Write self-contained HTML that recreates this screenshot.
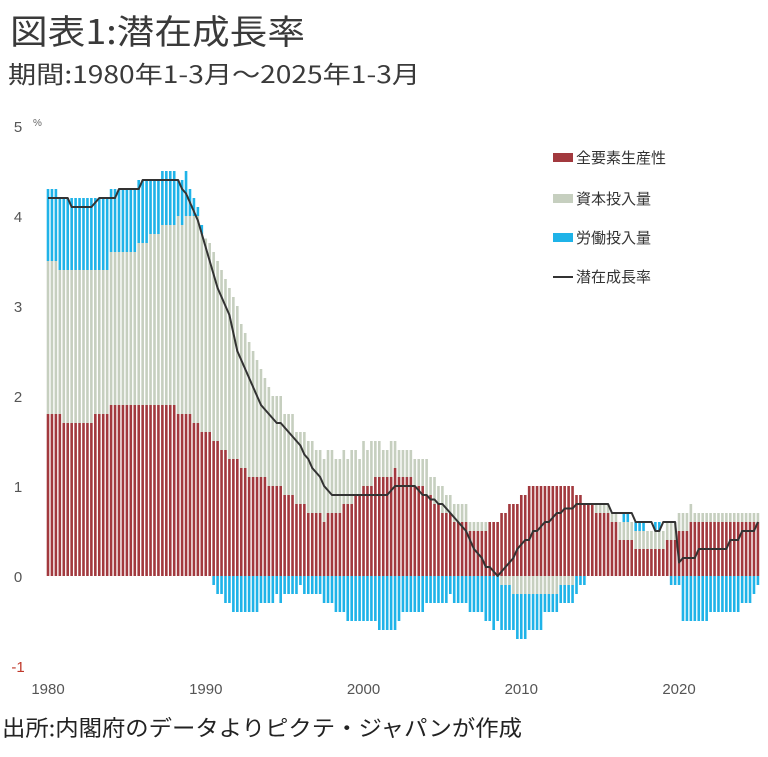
<!DOCTYPE html>
<html><head><meta charset="utf-8"><style>
html,body{margin:0;padding:0;background:#fff;}
svg{display:block;font-family:"Liberation Sans","Noto Sans CJK JP",sans-serif;}
</style></head><body>
<svg id="chart" width="768" height="757" viewBox="0 0 768 757" xmlns="http://www.w3.org/2000/svg">
<text x="10" y="44" font-size="34" fill="#3a3a3a" textLength="295" lengthAdjust="spacingAndGlyphs" font-family="Noto Sans CJK JP, sans-serif">図表1:潜在成長率</text>
<text x="8" y="83" font-size="24" fill="#3a3a3a" textLength="412" lengthAdjust="spacingAndGlyphs" font-family="Noto Sans CJK JP, sans-serif">期間:1980年1-3月～2025年1-3月</text>
<text x="2" y="736" font-size="22" fill="#222" textLength="520" lengthAdjust="spacingAndGlyphs" font-family="Noto Sans CJK JP, sans-serif">出所:内閣府のデータよりピクテ・ジャパンが作成</text>
<text x="33" y="126" font-size="10" fill="#666">%</text>
<g id="yaxis"></g>
<g id="xaxis"></g>
<g id="bars"></g>
<g id="line"></g>
<g font-family="Noto Sans CJK JP, sans-serif" font-size="15" fill="#333">
 <g><rect x="553" y="153" width="20" height="9" fill="#a2393e"/><text x="576" y="163">全要素生産性</text></g>
 <g><rect x="553" y="194" width="20" height="9" fill="#c6cfbf"/><text x="576" y="204">資本投入量</text></g>
 <g><rect x="553" y="233" width="20" height="9" fill="#1fb3e8"/><text x="576" y="243">労働投入量</text></g>
 <g><rect x="553" y="276" width="20" height="2" fill="#333"/><text x="576" y="282">潜在成長率</text></g>
</g>
</svg>
<script>
const yTicks=[5,4,3,2,1,0,-1];
const xTickYears=[1980,1990,2000,2010,2020];
const startYear=1980;
const tfp=[1.8,1.8,1.8,1.8,1.7,1.7,1.7,1.7,1.7,1.7,
1.7,1.7,1.8,1.8,1.8,1.8,1.9,1.9,1.9,1.9,
1.9,1.9,1.9,1.9,1.9,1.9,1.9,1.9,1.9,1.9,
1.9,1.9,1.9,1.8,1.8,1.8,1.8,1.7,1.7,1.6,
1.6,1.6,1.5,1.5,1.4,1.4,1.3,1.3,1.3,1.2,
1.2,1.1,1.1,1.1,1.1,1.1,1.0,1.0,1.0,1.0,
0.9,0.9,0.9,0.8,0.8,0.8,0.7,0.7,0.7,0.7,
0.6,0.7,0.7,0.7,0.7,0.8,0.8,0.8,0.9,0.9,
1.0,1.0,1.0,1.1,1.1,1.1,1.1,1.1,1.2,1.1,
1.1,1.1,1.1,1.0,1.0,1.0,0.9,0.9,0.8,0.8,
0.7,0.7,0.7,0.6,0.6,0.6,0.6,0.5,0.5,0.5,
0.5,0.5,0.6,0.6,0.6,0.7,0.7,0.8,0.8,0.8,
0.9,0.9,1.0,1.0,1.0,1.0,1.0,1.0,1.0,1.0,
1.0,1.0,1.0,1.0,0.9,0.9,0.8,0.8,0.8,0.7,
0.7,0.7,0.7,0.6,0.6,0.4,0.4,0.4,0.4,0.3,
0.3,0.3,0.3,0.3,0.3,0.3,0.3,0.4,0.4,0.4,
0.5,0.5,0.5,0.6,0.6,0.6,0.6,0.6,0.6,0.6,
0.6,0.6,0.6,0.6,0.6,0.6,0.6,0.6,0.6,0.6,0.6];
const capital=[1.7,1.7,1.7,1.6,1.7,1.7,1.7,1.7,1.7,1.7,
1.7,1.7,1.6,1.6,1.6,1.6,1.7,1.7,1.7,1.7,
1.7,1.7,1.7,1.8,1.8,1.8,1.9,1.9,1.9,2.0,
2.0,2.0,2.0,2.2,2.1,2.2,2.2,2.3,2.3,2.2,
2.15,2.1,2.1,2.0,2.0,1.9,1.9,1.8,1.7,1.6,
1.5,1.5,1.4,1.3,1.2,1.1,1.1,1.0,1.0,1.0,
0.9,0.9,0.9,0.8,0.8,0.8,0.8,0.8,0.7,0.7,
0.7,0.7,0.7,0.6,0.6,0.6,0.5,0.6,0.5,0.4,
0.5,0.4,0.5,0.4,0.4,0.3,0.3,0.4,0.3,0.3,
0.3,0.3,0.3,0.3,0.3,0.3,0.4,0.2,0.3,0.2,
0.3,0.2,0.2,0.2,0.2,0.2,0.2,0.1,0.1,0.1,
0.1,0.1,0,0,0,-0.1,-0.1,-0.1,-0.2,-0.2,
-0.2,-0.2,-0.2,-0.2,-0.2,-0.2,-0.2,-0.2,-0.2,-0.2,
-0.1,-0.1,-0.1,-0.1,0,0,0,0,0,0.1,
0.1,0.1,0.1,0.1,0.1,0.2,0.2,0.2,0.2,0.2,
0.2,0.2,0.2,0.2,0.2,0.2,0.2,0.2,0.2,0.2,
0.2,0.2,0.2,0.2,0.1,0.1,0.1,0.1,0.1,0.1,
0.1,0.1,0.1,0.1,0.1,0.1,0.1,0.1,0.1,0.1,0.1];
const labor=[0.8,0.8,0.8,0.8,0.8,0.8,0.8,0.8,0.8,0.8,
0.8,0.8,0.8,0.8,0.8,0.8,0.7,0.7,0.7,0.7,
0.7,0.7,0.7,0.7,0.7,0.7,0.6,0.6,0.6,0.6,
0.6,0.6,0.6,0.4,0.5,0.5,0.3,0.2,0.1,0.1,
0,0,-0.1,-0.2,-0.2,-0.3,-0.3,-0.4,-0.4,-0.4,
-0.4,-0.4,-0.4,-0.4,-0.3,-0.3,-0.3,-0.3,-0.2,-0.3,
-0.2,-0.2,-0.2,-0.2,-0.1,-0.2,-0.2,-0.2,-0.2,-0.2,
-0.3,-0.3,-0.3,-0.4,-0.4,-0.4,-0.5,-0.5,-0.5,-0.5,
-0.5,-0.5,-0.5,-0.5,-0.6,-0.6,-0.6,-0.6,-0.6,-0.5,
-0.4,-0.4,-0.4,-0.4,-0.4,-0.4,-0.3,-0.3,-0.3,-0.3,
-0.3,-0.3,-0.2,-0.3,-0.3,-0.3,-0.3,-0.4,-0.4,-0.4,
-0.4,-0.5,-0.5,-0.6,-0.5,-0.5,-0.5,-0.5,-0.4,-0.5,
-0.5,-0.5,-0.4,-0.4,-0.4,-0.4,-0.2,-0.2,-0.2,-0.2,
-0.2,-0.2,-0.2,-0.2,-0.2,-0.1,-0.1,0,0,0,
0,0,0,0,0,0,0.1,0.1,0,0.1,
0.1,0.1,0,0,0.1,0.1,0,0,-0.1,-0.1,
-0.1,-0.5,-0.5,-0.5,-0.5,-0.5,-0.5,-0.5,-0.4,-0.4,
-0.4,-0.4,-0.4,-0.4,-0.4,-0.4,-0.3,-0.3,-0.3,-0.2,-0.1];
const potential=[4.2,4.2,4.2,4.2,4.2,4.2,4.1,4.1,4.1,4.1,
4.1,4.1,4.15,4.2,4.2,4.2,4.2,4.2,4.3,4.3,
4.3,4.3,4.3,4.3,4.4,4.4,4.4,4.4,4.4,4.4,
4.4,4.4,4.4,4.4,4.3,4.25,4.15,4.05,3.95,3.8,
3.65,3.5,3.35,3.2,3.1,3.0,2.9,2.7,2.5,2.4,
2.3,2.2,2.1,2.0,1.9,1.85,1.8,1.75,1.7,1.7,
1.65,1.6,1.55,1.5,1.45,1.35,1.3,1.2,1.15,1.1,
1.0,0.95,0.9,0.9,0.9,0.9,0.9,0.9,0.9,0.9,
0.9,0.9,0.9,0.9,0.9,0.9,0.9,0.95,1.0,1.0,
1.0,1.0,1.0,1.0,0.95,0.9,0.9,0.85,0.85,0.8,
0.8,0.75,0.7,0.65,0.6,0.55,0.5,0.4,0.3,0.25,
0.2,0.1,0.1,0.05,0.0,0.05,0.1,0.15,0.2,0.3,
0.35,0.4,0.4,0.5,0.5,0.55,0.6,0.6,0.65,0.7,
0.7,0.75,0.75,0.75,0.8,0.8,0.8,0.8,0.8,0.8,
0.8,0.8,0.8,0.7,0.7,0.7,0.7,0.7,0.7,0.6,
0.6,0.6,0.6,0.6,0.5,0.5,0.6,0.6,0.6,0.6,
0.15,0.2,0.2,0.2,0.2,0.3,0.3,0.3,0.3,0.3,
0.3,0.3,0.3,0.4,0.4,0.4,0.5,0.5,0.5,0.5,0.6];

const NS='http://www.w3.org/2000/svg';
const zeroY=576, unit=90, x0=48, step=3.944, barW=2.6;
function yScale(v){return zeroY-v*unit;}
function xScale(i){return x0+i*step;}
function xYear(y){return x0+(y-startYear)*4*step;}
function mk(tag,attrs,parent){const e=document.createElementNS(NS,tag);for(const k in attrs)e.setAttribute(k,attrs[k]);parent.appendChild(e);return e;}

const ya=document.getElementById('yaxis');
yTicks.forEach(t=>{
  const e=mk('text',{x:18,y:yScale(t)+6,'font-size':15,fill:t<0?'#c0392b':'#555','text-anchor':'middle'},ya);
  
  
  e.textContent=String(t);
});
const xa=document.getElementById('xaxis');
xTickYears.forEach(y=>{
  const e=mk('text',{x:xYear(y),y:694,'font-size':15,fill:'#555','text-anchor':'middle'},xa);
  
  
  e.textContent=String(y);
});
const bg=document.getElementById('bars');
const colors={tfp:'#a2393e',capital:'#c6cfbf',labor:'#1fb3e8'};
for(let i=0;i<tfp.length;i++){
  let pos=0,neg=0;
  [['tfp',tfp[i]],['capital',capital[i]],['labor',labor[i]]].forEach(([k,v])=>{
    if(!v)return;
    let top,bot;
    if(v>0){bot=pos;top=pos+v;pos=top;}else{top=neg;bot=neg+v;neg=bot;}
    const r=mk('rect',{x:(xScale(i)-barW/2).toFixed(2),y:yScale(top).toFixed(2),width:barW,height:((top-bot)*unit).toFixed(2),fill:colors[k]},bg);
    
    
  });
}
const lg=document.getElementById('line');
const pts=potential.map((v,i)=>xScale(i).toFixed(2)+','+yScale(v).toFixed(2)).join(' ');
const pl=mk('polyline',{points:pts,fill:'none',stroke:'#333','stroke-width':2,'stroke-linejoin':'round'},lg);


</script>
</body></html>
